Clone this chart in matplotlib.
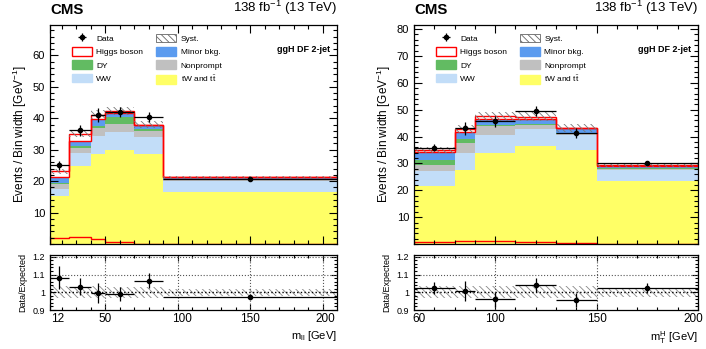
import numpy as np
import matplotlib
matplotlib.use("Agg")
import matplotlib.pyplot as plt
from matplotlib.patches import Patch
from matplotlib.ticker import MultipleLocator, FixedLocator
from matplotlib.transforms import ScaledTranslation

plt.rcParams['font.family'] = ['Liberation Sans', 'DejaVu Sans']
plt.rcParams['hatch.linewidth'] = 0.6
plt.rcParams['mathtext.fontset'] = 'custom'
plt.rcParams['mathtext.rm'] = 'Liberation Sans'
plt.rcParams['mathtext.it'] = 'Liberation Sans'

# ---- left panel: m_ll ----
mll_edges = [12, 25, 40, 50, 70, 90, 210]
mll_tt = [15.2, 24.8, 28.8, 30.0, 28.5, 16.5]
mll_ww = [2.4, 4.1, 5.5, 5.7, 5.4, 3.4]
mll_np = [1.6, 1.6, 2.5, 2.4, 2.0, 0.4]
mll_dy = [0.2, 0.7, 0.8, 2.2, 0.6, 0.1]
mll_minor = [1.9, 1.6, 2.1, 1.4, 1.4, 0.8]
mll_higgs = [1.8, 2.3, 1.5, 0.6, 0.1, 0.03]
mll_data = [25.0, 36.2, 41.0, 41.9, 40.5, 20.7]
mll_err = [1.5, 1.7, 2.3, 1.6, 1.6, 0.3]
mll_syst = [0.035, 0.03, 0.035, 0.03, 0.03, 0.02]

# ---- right panel: mT^H ----
mth_edges = [60, 80, 90, 110, 130, 150, 200]
mth_tt = [21.5, 27.7, 33.7, 36.5, 34.8, 23.4]
mth_ww = [5.7, 6.3, 6.7, 6.4, 5.8, 4.0]
mth_np = [2.1, 3.7, 3.4, 1.3, 0.5, 0.5]
mth_dy = [2.1, 1.3, 0.6, 0.6, 0.3, 0.2]
mth_minor = [2.9, 2.7, 2.0, 1.7, 1.6, 1.1]
mth_higgs = [0.7, 1.0, 1.2, 0.9, 0.3, 0.1]
mth_data = [35.9, 43.0, 45.7, 49.4, 41.3, 30.05]
mth_err = [1.2, 2.4, 2.0, 1.9, 1.7, 0.8]
mth_syst = [0.035, 0.035, 0.035, 0.035, 0.035, 0.025]

colors = {'tt': '#ffff66', 'ww': '#c2ddf8', 'np': '#c0c0c0',
          'dy': '#62bb62', 'minor': '#5b9bef'}
HATCH = '\\\\\\\\\\'


def draw(fig, main_rect, ratio_rect, edges, comps, higgs, data, err, syst,
         ymax, xticks, xticklabels, xminor, xlabel, label_shifts):
    ax = fig.add_axes(main_rect)
    rax = fig.add_axes(ratio_rect)
    edges = np.array(edges, dtype=float)
    centers = 0.5 * (edges[1:] + edges[:-1])
    halfw = 0.5 * (edges[1:] - edges[:-1])

    base = np.zeros(len(centers))
    for key in ['tt', 'ww', 'np', 'dy', 'minor']:
        vals = np.array(comps[key])
        ax.stairs(base + vals, edges, baseline=base, fill=True,
                  color=colors[key], lw=0)
        base = base + vals
    total = base + np.array(higgs)
    ax.stairs(total, edges, baseline=base, fill=True, color='white', lw=0)
    ax.stairs(total, edges, baseline=base, color='red', lw=1.0)
    # syst band
    syst = np.array(syst)
    ax.stairs(total * (1 + syst), edges, baseline=total * (1 - syst), fill=True,
              facecolor='none', edgecolor='#777777', hatch=HATCH, lw=0)
    # higgs unstacked
    ax.stairs(higgs, edges, baseline=0, color='red', lw=1.0)

    data = np.array(data)
    err = np.array(err)
    dat = ax.errorbar(centers, data, xerr=halfw, yerr=err, fmt='o',
                      color='black', ms=3, lw=0.9, capsize=0)

    ax.set_xlim(edges[0], edges[-1])
    ax.set_ylim(0, ymax)
    ax.yaxis.set_major_locator(FixedLocator(np.arange(10, ymax, 10)))
    ax.yaxis.set_minor_locator(MultipleLocator(2))
    ax.xaxis.set_major_locator(FixedLocator(xticks))
    ax.xaxis.set_minor_locator(FixedLocator(xminor))
    ax.set_xticklabels([])
    ax.set_ylabel('Events / Bin width [GeV$^{-1}$]', fontsize=8.5, labelpad=3)

    # ratio
    ratio = data / total
    rerr = err / total
    rax.stairs(1 + syst, edges, baseline=1 - syst, fill=True,
               facecolor='none', edgecolor='#888888', hatch=HATCH, lw=0)
    for yv in [1.1, 1.2]:
        rax.axhline(yv, color='#555555', ls=':', lw=0.8)
    rax.axhline(1.0, color='black', ls=':', lw=1.0)
    for xv in xticks:
        if xv > edges[0]:
            rax.axvline(xv, color='#555555', ls=':', lw=0.8)
    rax.errorbar(centers, ratio, xerr=halfw, yerr=rerr, fmt='o', color='black',
                 ms=3, lw=0.9, capsize=0)
    rax.set_xlim(edges[0], edges[-1])
    rax.set_ylim(0.9, 1.21)
    rax.yaxis.set_major_locator(FixedLocator([0.9, 1.0, 1.1, 1.2]))
    rax.set_yticklabels(['0.9', '1', '1.1', '1.2'])
    rax.yaxis.set_minor_locator(MultipleLocator(0.02))
    rax.xaxis.set_major_locator(FixedLocator(xticks))
    rax.xaxis.set_minor_locator(FixedLocator(xminor))
    rax.set_xticklabels([])
    # tick labels as plain text so the end ones can be nudged inside
    for xv, lab, dx in zip(xticks, xticklabels, label_shifts):
        tr = rax.get_xaxis_transform() + ScaledTranslation(
            dx / 100, -3 / 100, fig.dpi_scale_trans)
        rax.text(xv, 0, lab, transform=tr, ha='center', va='top', fontsize=8.5)
    rax.set_ylabel('Data/Expected', fontsize=6.5, labelpad=4)
    rax.set_xlabel(xlabel, fontsize=8, loc='right', labelpad=10.5)

    for a in (ax, rax):
        a.tick_params(which='both', direction='in', top=True, right=True,
                      labelsize=8, width=0.8)
        a.tick_params(which='major', length=6)
        a.tick_params(which='minor', length=3)
        for s in a.spines.values():
            s.set_linewidth(0.9)
    rax.tick_params(axis='y', labelsize=6.5)
    rax.tick_params(which='major', length=4)
    rax.tick_params(which='minor', length=2)

    ax.text(0.0, 1.035, 'CMS', transform=ax.transAxes, fontsize=10.8,
            fontweight='bold', ha='left', va='bottom')
    ax.text(1.0, 1.035, '138 fb$^{-1}$ (13 TeV)', transform=ax.transAxes,
            fontsize=9.5, ha='right', va='bottom')
    ax.text(0.975, 0.89, 'ggH DF 2-jet', transform=ax.transAxes, fontsize=6.5,
            fontweight='bold', ha='right', va='center')

    handles = [
        dat,
        Patch(facecolor='white', edgecolor='#666666', hatch=HATCH, lw=0.6),
        Patch(facecolor='white', edgecolor='red', lw=1.0),
        Patch(facecolor=colors['minor'], edgecolor=colors['minor']),
        Patch(facecolor=colors['dy'], edgecolor=colors['dy']),
        Patch(facecolor=colors['np'], edgecolor=colors['np']),
        Patch(facecolor=colors['ww'], edgecolor=colors['ww']),
        Patch(facecolor=colors['tt'], edgecolor=colors['tt']),
    ]
    labels = ['Data', 'Syst.', 'Higgs boson', 'Minor bkg.', 'DY', 'Nonprompt',
              'WW', r'tW and t$\bar{\rm t}$']
    order = [0, 2, 4, 6, 1, 3, 5, 7]
    ax.legend([handles[i] for i in order], [labels[i] for i in order], ncol=2,
              loc='upper left', bbox_to_anchor=(0.062, 0.98), frameon=False,
              borderpad=0, fontsize=6, handlelength=2.4, handleheight=1.25,
              columnspacing=1.6, labelspacing=0.5, handletextpad=0.5)
    return ax, rax


fig = plt.figure(figsize=(7.06, 3.49), dpi=100)
W, H = 706.0, 349.0

draw(fig,
     [50 / W, 1 - 244 / H, 287 / W, 219 / H],
     [50 / W, 1 - 310 / H, 287 / W, 55 / H],
     mll_edges,
     {'tt': mll_tt, 'ww': mll_ww, 'np': mll_np, 'dy': mll_dy, 'minor': mll_minor},
     mll_higgs, mll_data, mll_err, mll_syst, 69.7,
     [12, 50, 100, 150, 200], ['12', '50', '100', '150', '200'],
     list(range(20, 210, 10)), r'm$_{\rm ll}$ [GeV]', [8, 0, 4, 0, 3])

draw(fig,
     [414 / W, 1 - 244 / H, 284 / W, 219 / H],
     [414 / W, 1 - 310 / H, 284 / W, 55 / H],
     mth_edges,
     {'tt': mth_tt, 'ww': mth_ww, 'np': mth_np, 'dy': mth_dy, 'minor': mth_minor},
     mth_higgs, mth_data, mth_err, mth_syst, 81.5,
     [60, 100, 150, 200], ['60', '100', '150', '200'],
     list(range(70, 200, 10)), r'm$_{\rm T}^{\rm H}$ [GeV]', [5, 0, 0, -5])

fig.savefig('out.png', dpi=100)
